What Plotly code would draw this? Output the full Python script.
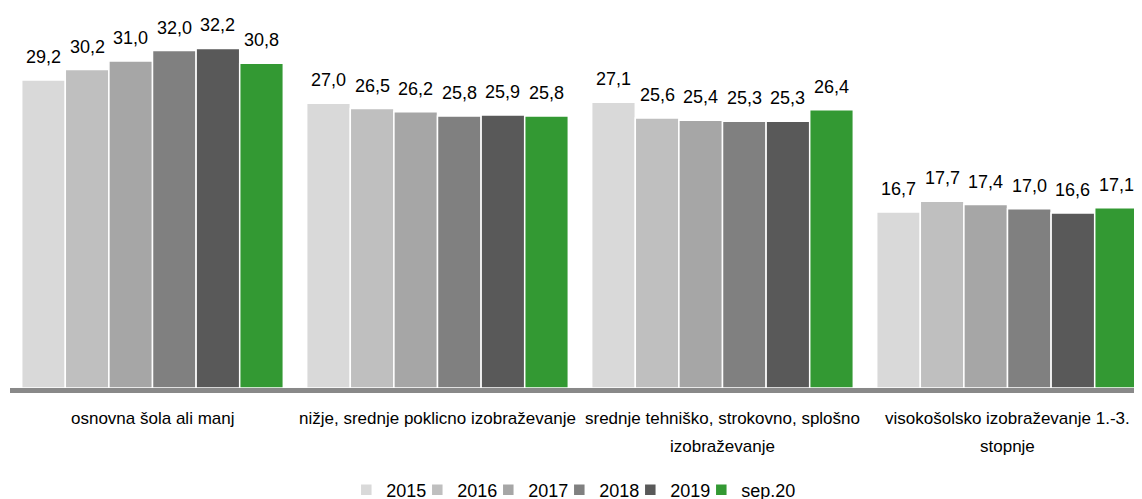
import plotly.graph_objects as go

categories = [
    "osnovna šola ali manj",
    "nižje, srednje poklicno izobraževanje",
    "srednje tehniško, strokovno, splošno<br>izobraževanje",
    "visokošolsko izobraževanje 1.-3.<br>stopnje",
]
series_names = ["2015", "2016", "2017", "2018", "2019", "sep.20"]
v2015 = [29.2, 27.0, 27.1, 16.7]
v2016 = [30.2, 26.5, 25.6, 17.7]
v2017 = [31.0, 26.2, 25.4, 17.4]
v2018 = [32.0, 25.8, 25.3, 17.0]
v2019 = [32.2, 25.9, 25.3, 16.6]
vsep20 = [30.8, 25.8, 26.4, 17.1]
series_values = [v2015, v2016, v2017, v2018, v2019, vsep20]
colors = ["#D9D9D9", "#BFBFBF", "#A6A6A6", "#808080", "#595959", "#339933"]

FONT = "Liberation Sans, Arial, sans-serif"
bargap = 0.082
n = len(series_names)
xpos = list(range(len(categories)))

fig = go.Figure()
for name, vals, col in zip(series_names, series_values, colors):
    fig.add_trace(go.Bar(
        name=name, x=xpos, y=vals,
        marker=dict(color=col, line=dict(color="white", width=1.5)),
        legendwidth=60 if name == "sep.20" else None,
    ))

annotations = []
# value labels above bars
gw = 1 - bargap
bw = gw / n
for i, vals in enumerate(series_values):
    for k, v in enumerate(vals):
        cx = k - gw / 2 + (i + 0.5) * bw
        annotations.append(dict(
            x=cx, y=v, xref="x", yref="y", text=f"{v:.1f}".replace(".", ","),
            showarrow=False, yanchor="middle", yshift=23,
            font=dict(family=FONT, size=18, color="#000000"),
        ))

# category labels (one annotation per line for wider line spacing)
for k, cat in enumerate(categories):
    for j, line in enumerate(cat.split("<br>")):
        annotations.append(dict(
            x=k, y=0, xref="x", yref="y", text=line, showarrow=False,
            yanchor="middle", yshift=-30 - 28 * j,
            font=dict(family=FONT, size=17, color="#000000"),
        ))

fig.update_layout(
    barmode="group", bargap=bargap, bargroupgap=0,
    width=1142, height=499,
    margin=dict(l=2, r=0, t=12, b=119, autoexpand=False),
    plot_bgcolor="white", paper_bgcolor="white",
    font=dict(family=FONT, size=17, color="#000000"),
    annotations=annotations,
    showlegend=True,
    legend=dict(orientation="h", x=0.295, xanchor="left", y=-0.277, yanchor="middle",
                font=dict(family=FONT, size=18), itemwidth=30, entrywidth=26,
                bgcolor="rgba(0,0,0,0)"),
    xaxis=dict(tickmode="array", tickvals=xpos, showticklabels=False,
               range=[-0.5, len(categories) - 0.5],
               showline=True, linecolor="#898989", linewidth=5,
               ticks="", showgrid=False, zeroline=False),
    yaxis=dict(range=[0, 34.9], visible=False, showgrid=False, zeroline=False),
)

fig.write_html("out.html")
